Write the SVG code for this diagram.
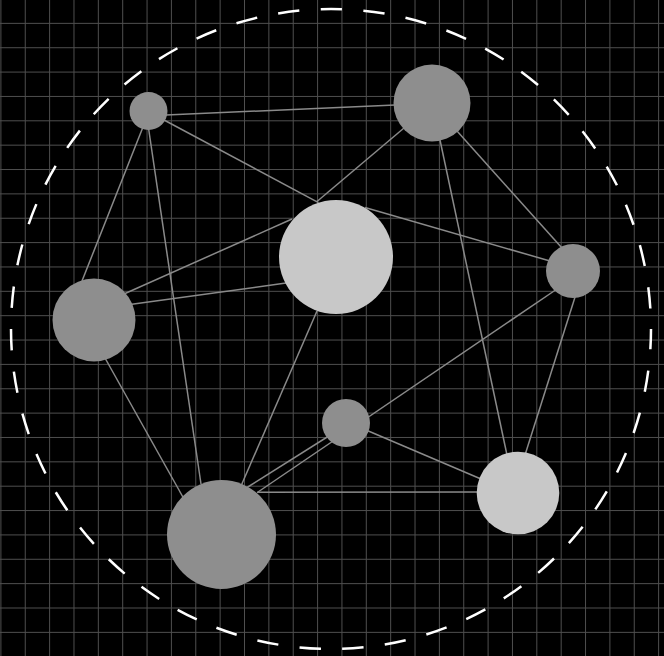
<svg xmlns="http://www.w3.org/2000/svg" width="664" height="656" viewBox="0 0 664 656">
  <style>
    .grid { stroke: #4f4f4f; stroke-width: 1; fill: none; }
    .ring { fill: none; stroke: #ffffff; stroke-width: 2.5; stroke-dasharray: 21.4 21.4; stroke-dashoffset: 1; }
    .edge { stroke: #8a8a8a; stroke-width: 1.5; fill: none; }
    .dark { fill: #8e8e8e; }
    .light { fill: #c8c8c8; }
  </style>
  <rect x="0" y="0" width="664" height="656" fill="#000000"/>
  <g id="grid">
    <path class="grid" d="M0.9 0V656M25.26 0V656M49.62 0V656M73.98 0V656M98.34 0V656M122.7 0V656M147.06 0V656M171.42 0V656M195.78 0V656M220.14 0V656M244.5 0V656M268.86 0V656M293.22 0V656M317.58 0V656M341.94 0V656M366.3 0V656M390.66 0V656M415.02 0V656M439.38 0V656M463.74 0V656M488.1 0V656M512.46 0V656M536.82 0V656M561.18 0V656M585.54 0V656M609.9 0V656M634.26 0V656M658.62 0V656"/>
    <path class="grid" d="M0 23.36H664M0 47.72H664M0 72.08H664M0 96.44H664M0 120.8H664M0 145.16H664M0 169.52H664M0 193.88H664M0 218.24H664M0 242.6H664M0 266.96H664M0 291.32H664M0 315.68H664M0 340.04H664M0 364.4H664M0 388.76H664M0 413.12H664M0 437.48H664M0 461.84H664M0 486.2H664M0 510.56H664M0 534.92H664M0 559.28H664M0 583.64H664M0 608H664M0 632.36H664"/>
  </g>
  <circle id="boundary" class="ring" cx="331" cy="329" r="320"/>
  <g id="connectors">
    <line class="edge" x1="166" y1="115" x2="395" y2="105"/>
    <line class="edge" x1="164" y1="120" x2="318.5" y2="202.6"/>
    <line class="edge" x1="404" y1="128" x2="316.7" y2="201.7"/>
    <line class="edge" x1="457" y1="131" x2="562" y2="248"/>
    <line class="edge" x1="440" y1="140" x2="507" y2="455"/>
    <line class="edge" x1="365" y1="207.5" x2="550" y2="261"/>
    <line class="edge" x1="557" y1="289" x2="258" y2="492"/>
    <line class="edge" x1="576" y1="294" x2="525" y2="455"/>
    <line class="edge" x1="124" y1="294" x2="292" y2="219"/>
    <line class="edge" x1="130" y1="304.6" x2="286" y2="283"/>
    <line class="edge" x1="143" y1="127" x2="82" y2="281"/>
    <line class="edge" x1="148.5" y1="128" x2="201" y2="484"/>
    <line class="edge" x1="105" y1="358" x2="184" y2="499"/>
    <line class="edge" x1="317" y1="311" x2="241" y2="486"/>
    <line class="edge" x1="328" y1="436.5" x2="247" y2="487.5"/>
    <line class="edge" x1="257" y1="492.3" x2="479" y2="492"/>
    <line class="edge" x1="366" y1="430" x2="481" y2="479"/>
  </g>
  <g id="node-1"><circle class="dark" cx="148.5" cy="111" r="19"/></g>
  <g id="node-2"><circle class="dark" cx="432" cy="103" r="38.5"/></g>
  <g id="node-3"><circle class="light" cx="336" cy="257" r="57"/></g>
  <g id="node-4"><circle class="dark" cx="573" cy="271" r="27"/></g>
  <g id="node-5"><circle class="dark" cx="94" cy="320" r="41.5"/></g>
  <g id="node-6"><circle class="dark" cx="346" cy="423" r="24"/></g>
  <g id="node-7"><circle class="dark" cx="221.5" cy="534.5" r="54.5"/></g>
  <g id="node-8"><circle class="light" cx="518" cy="493" r="41.3"/></g>
</svg>
